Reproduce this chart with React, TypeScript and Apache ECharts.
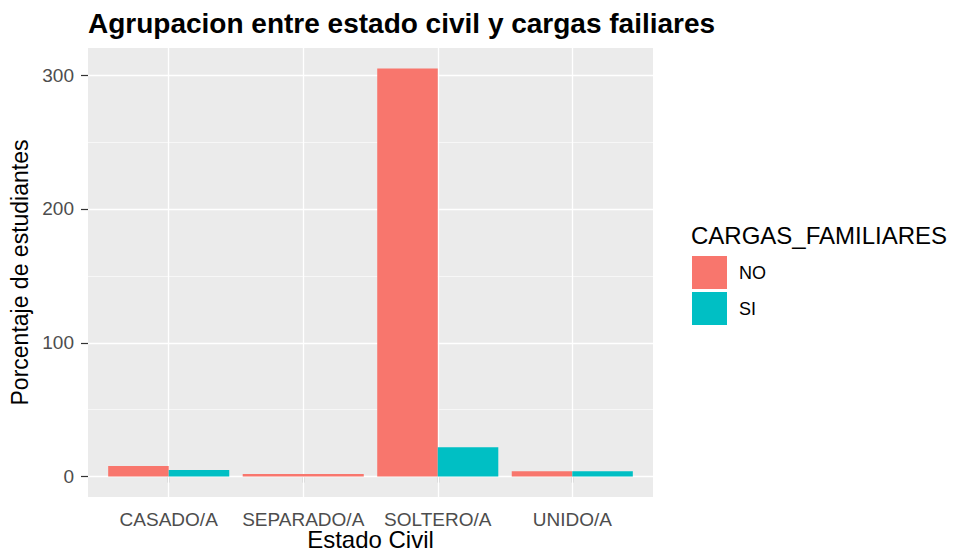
import React, { useEffect, useRef } from "react";
import * as echarts from "echarts";

const categories = ["CASADO/A", "SEPARADO/A", "SOLTERO/A", "UNIDO/A"];
const noValues: (number | null)[] = [8, 2, 305, 4];
const siValues: (number | null)[] = [5, null, 22, 4];
const yTicks = [0, 100, 200, 300];
const yMinor = [50, 150, 250];
const groups = ["NO", "SI"];
const colors = ["#F8766D", "#00BFC4"];

const FONT = "Liberation Sans, Arial, sans-serif";

export default function App() {
  const ref = useRef<HTMLDivElement>(null);
  useEffect(() => {
    if (!ref.current) return;
    const chart = echarts.init(ref.current, undefined, { renderer: "svg" });

    const makeData = (own: (number | null)[], other: (number | null)[]) =>
      own
        .map((v, i) => (v == null ? null : [i + 1, v, other[i] == null ? 1 : 0]))
        .filter((d) => d != null);

    const makeRender = (side: number, color: string) => (params: any, api: any) => {
      const x = api.value(0);
      const v = api.value(1);
      const full = api.value(2);
      let x0: number, x1: number;
      if (full) {
        x0 = x - 0.45;
        x1 = x + 0.45;
      } else if (side < 0) {
        x0 = x - 0.45;
        x1 = x;
      } else {
        x0 = x;
        x1 = x + 0.45;
      }
      const p0 = api.coord([x0, v]);
      const p1 = api.coord([x1, 0]);
      return {
        type: "rect",
        shape: { x: p0[0], y: p0[1], width: p1[0] - p0[0], height: p1[1] - p0[1] },
        style: { fill: color },
      };
    };

    const gridLines = [
      ...yTicks.map((v) => ({ yAxis: v, lineStyle: { color: "#FFFFFF", width: 1.3, type: "solid" } })),
      ...yMinor.map((v) => ({ yAxis: v, lineStyle: { color: "#FFFFFF", width: 0.6, type: "solid" } })),
      ...categories.map((_, i) => ({ xAxis: i + 1, lineStyle: { color: "#FFFFFF", width: 1.3, type: "solid" } })),
    ];

    chart.setOption({
      animation: false,
      textStyle: { fontFamily: FONT },
      title: [
        {
          text: "Agrupacion entre estado civil y cargas failiares",
          left: 83,
          top: 4,
          textStyle: { fontFamily: FONT, fontSize: 28, fontWeight: "bold", color: "#000" },
        },
        {
          text: "CARGAS_FAMILIARES",
          left: 686,
          top: 218,
          textStyle: { fontFamily: FONT, fontSize: 24, fontWeight: "normal", color: "#000" },
        },
      ],
      legend: {
        orient: "vertical",
        left: 687,
        top: 251,
        itemWidth: 35,
        itemHeight: 33,
        itemGap: 3,
        selectedMode: false,
        data: groups.map((g) => ({ name: g, icon: "rect" })),
        textStyle: { fontFamily: FONT, fontSize: 18, color: "#000", padding: [0, 0, 0, 7] },
      },
      grid: {
        left: 88,
        right: 300,
        top: 48,
        bottom: 57,
        show: true,
        backgroundColor: "#EBEBEB",
        borderWidth: 0,
        containLabel: false,
        outerBoundsMode: "none",
      },
      xAxis: {
        type: "value",
        min: 0.4,
        max: 4.6,
        name: "Estado Civil",
        nameLocation: "middle",
        nameGap: 31,
        nameMoveOverlap: false,
        nameTextStyle: { fontFamily: FONT, fontSize: 24, lineHeight: 22, color: "#000" },
        axisLine: { show: false },
        splitLine: { show: false },
        axisTick: { show: true, customValues: [1, 2, 3, 4], length: 6, lineStyle: { color: "#333333", width: 1.2 } },
        axisLabel: {
          customValues: [1, 2, 3, 4],
          formatter: (v: number) => categories[Math.round(v) - 1] ?? "",
          margin: 12.5,
          lineHeight: 19,
          fontFamily: FONT,
          fontSize: 19,
          color: "#4D4D4D",
        },
      },
      yAxis: {
        type: "value",
        min: -15.25,
        max: 320.25,
        name: "Porcentaje de estudiantes",
        nameLocation: "middle",
        nameGap: 49,
        nameTextStyle: { fontFamily: FONT, fontSize: 23, color: "#000" },
        axisLine: { show: false },
        splitLine: { show: false },
        axisTick: { show: true, customValues: yTicks, length: 7, lineStyle: { color: "#333333", width: 1.2 } },
        axisLabel: {
          customValues: yTicks,
          margin: 14,
          fontFamily: FONT,
          fontSize: 19,
          color: "#4D4D4D",
        },
      },
      series: [
        {
          name: "NO",
          type: "custom",
          itemStyle: { color: colors[0] },
          renderItem: makeRender(-1, colors[0]),
          data: makeData(noValues, siValues),
          encode: { x: 0, y: 1 },
          z: 3,
          markLine: {
            silent: true,
            symbol: "none",
            z: 1,
            label: { show: false },
            emphasis: { disabled: true },
            data: gridLines,
          },
        },
        {
          name: "SI",
          type: "custom",
          itemStyle: { color: colors[1] },
          renderItem: makeRender(1, colors[1]),
          data: makeData(siValues, noValues),
          encode: { x: 0, y: 1 },
          z: 3,
        },
      ],
    });
    return () => chart.dispose();
  }, []);
  return (
    <div
      ref={ref}
      style={{ position: "fixed", left: 0, top: 0, width: 953, height: 554, background: "#FFFFFF" }}
    />
  );
}
